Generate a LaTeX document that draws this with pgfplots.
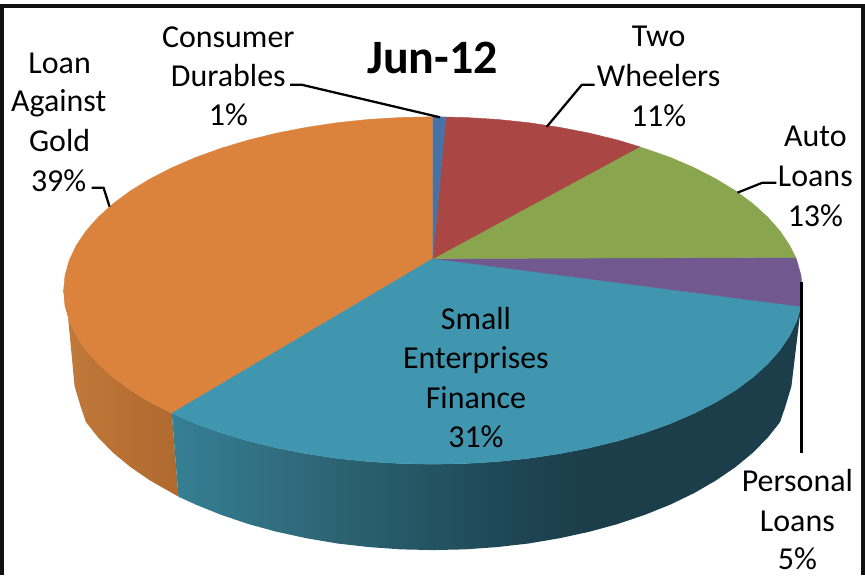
\documentclass[border=0pt]{standalone}
\usepackage{pgfplots}
\pgfplotsset{compat=1.18}
\usepackage{fontspec}
\setmainfont{Carlito}
\definecolor{cdblue}{HTML}{4572A7}
\definecolor{twred}{HTML}{AA4643}
\definecolor{algreen}{HTML}{89A54E}
\definecolor{plpurple}{HTML}{71588F}
\definecolor{seteal}{HTML}{4096AE}
\definecolor{lgorange}{HTML}{DB823C}
\definecolor{frame}{HTML}{111111}
\definecolor{tealA}{HTML}{367F94}
\definecolor{tealB}{HTML}{2F6A7B}
\definecolor{tealC}{HTML}{245563}
\definecolor{tealD}{HTML}{1E4452}
\definecolor{tealE}{HTML}{1C3E4A}
\definecolor{orangeA}{HTML}{C27A3C}
\definecolor{orangeB}{HTML}{B87033}
\definecolor{orangeC}{HTML}{AF6A30}
% Rim shadings: the middle 50bp of each shading spans the rim's width.
\pgfdeclarehorizontalshading{tealrim}{100bp}{
  color(0bp)=(tealA); color(25bp)=(tealA);
  color(35bp)=(tealB); color(45bp)=(tealC);
  color(53bp)=(tealD); color(58bp)=(tealE);
  color(75bp)=(tealE); color(100bp)=(tealE)}
\pgfdeclarehorizontalshading{orangerim}{100bp}{
  color(0bp)=(orangeA); color(25bp)=(orangeA);
  color(50bp)=(orangeB); color(75bp)=(orangeC); color(100bp)=(orangeC)}
\newcommand{\lbl}[3]{\node[anchor=base,inner sep=0pt,font=\fontsize{24}{28}\selectfont] at (axis cs:#1,#2) {#3};}
\begin{document}
\begin{tikzpicture}
\begin{axis}[
  scale only axis, width=648.75pt, height=432pt,
  xmin=0, xmax=865, ymin=0, ymax=576, y dir=reverse,
  hide axis, clip=false, no markers,
  every axis plot/.append style={line join=round}]

% Keep the full canvas in the bounding box
\path (axis cs:0,0) (axis cs:865,576);

% Rim of the pie, below the top face
\addplot[draw=none, shade, shading=orangerim] coordinates {
  (63,291) (64.4,306.2) (68.6,321.2) (75.6,336) (85.3,350.5) (97.7,364.5) (112.6,378)
  (129.9,390.8) (149.6,402.8) (171.4,414) (178,497.5) (149.6,481.3) (129.9,467.8)
  (112.6,453.5) (97.7,438.4) (85.3,422.7) (80,407) (74,387) (67,313)};
\addplot[draw=none, shade, shading=tealrim] coordinates {
  (171.4,414) (195.2,424.3) (220.8,433.5) (248,441.7) (276.6,448.7) (306.5,454.5)
  (337.2,459.1) (368.8,462.4) (400.8,464.3) (433,465) (465.2,464.3) (497.2,462.4)
  (528.8,459.1) (559.5,454.5) (589.4,448.7) (618,441.7) (645.2,433.5) (670.8,424.3)
  (694.6,414) (716.4,402.8) (736.1,390.8) (753.4,378) (768.3,364.5) (780.7,350.5)
  (790.4,336) (797.4,321.2) (801.6,307) (792,387) (786,407) (780.7,422.7) (768.3,438.4)
  (753.4,453.5) (736.1,467.8) (716.4,481.3) (694.6,493.9) (670.8,505.4) (645.2,515.7)
  (618,524.9) (589.4,532.7) (559.5,539.2) (528.8,544.4) (497.2,548) (465.2,550.3)
  (433,551) (400.8,550.3) (368.8,548) (337.2,544.4) (306.5,539.2) (276.6,532.7)
  (248,524.9) (220.8,515.7) (195.2,505.4) (178,497.5)};

% Top face: one sector per product
% Loan Against Gold, 39%
\addplot[fill=lgorange, draw=lgorange, line width=0.3pt] coordinates {
  (433,259) (433,117) (400.8,117.7) (368.8,119.6) (337.2,122.9) (306.5,127.5) (276.6,133.3)
  (248,140.3) (220.8,148.5) (195.2,157.7) (171.4,168) (149.6,179.2) (129.9,191.2)
  (112.6,204) (97.7,217.5) (85.3,231.5) (75.6,246) (68.6,260.8) (64.4,275.8) (63,291)
  (64.4,306.2) (68.6,321.2) (75.6,336) (85.3,350.5) (97.7,364.5) (112.6,378) (129.9,390.8)
  (149.6,402.8) (171.4,414) (433,259)};
% Small Enterprises Finance, 31%
\addplot[fill=seteal, draw=seteal, line width=0.3pt] coordinates {
  (433,259) (171.4,414) (195.2,424.3) (220.8,433.5) (248,441.7) (276.6,448.7) (306.5,454.5)
  (337.2,459.1) (368.8,462.4) (400.8,464.3) (433,465) (465.2,464.3) (497.2,462.4)
  (528.8,459.1) (559.5,454.5) (589.4,448.7) (618,441.7) (645.2,433.5) (670.8,424.3)
  (694.6,414) (716.4,402.8) (736.1,390.8) (753.4,378) (768.3,364.5) (780.7,350.5)
  (790.4,336) (797.4,321.2) (801.6,307) (433,259)};
% Personal Loans, 5%
\addplot[fill=plpurple, draw=plpurple, line width=0.3pt] coordinates {
  (433,259) (801.6,307) (803,291) (801.6,275.8) (797.4,260.8) (796.2,257.8) (433,259)};
% Auto Loans, 13%
\addplot[fill=algreen, draw=algreen, line width=0.3pt] coordinates {
  (433,259) (796.2,257.8) (790.4,246) (780.7,231.5) (768.3,217.5) (753.4,204) (736.1,191.2)
  (716.4,179.2) (694.6,168) (670.8,157.7) (640,147) (433,259)};
% Two Wheelers, 11%
\addplot[fill=twred, draw=twred, line width=0.3pt] coordinates {
  (433,259) (640,147) (618,140.3) (589.4,133.3) (559.5,127.5) (528.8,122.9) (497.2,119.6)
  (465.2,117.7) (445.7,117.2) (433,259)};
% Consumer Durables, 1%
\addplot[fill=cdblue, draw=cdblue, line width=0.3pt] coordinates {
  (433,259) (445.7,117.2) (433,117) (433,259)};

% Leader lines from the labels to the sectors
\addplot[black, line width=1.7pt] coordinates {(290,85) (302,85) (440,117.5)};
\addplot[black, line width=1.7pt] coordinates {(595,85) (582,85) (547,127)};
\addplot[black, line width=1.7pt] coordinates {(777,183) (763,183) (738,193)};
\addplot[black, line width=1.7pt] coordinates {(91,188) (103,188) (109,207)};
\addplot[black, line width=1.7pt] coordinates {(802,282) (802,454)};

% Frame, open at the foot
\addplot[frame, line width=2.9pt, line join=miter] coordinates {(1.2,576) (1.2,6) (863.8,6) (863.8,576)};

% Title
\node[anchor=base,inner sep=0pt,font=\fontsize{36}{42}\selectfont\bfseries] at (axis cs:432.5,73.5) {Jun-12};

% Sector labels, line by line
\lbl{228}{48}{Consumer}
\lbl{228}{87}{Durables}
\lbl{228}{126}{1\%}
\lbl{59}{74}{Loan}
\lbl{58}{112}{Against}
\lbl{59}{152}{Gold}
\lbl{58}{192}{39\%}
\lbl{659}{47}{Two}
\lbl{659}{87}{Wheelers}
\lbl{659}{127}{11\%}
\lbl{816}{147}{Auto}
\lbl{816}{187}{Loans}
\lbl{816}{227}{13\%}
\lbl{476}{330}{Small}
\lbl{476}{369}{Enterprises}
\lbl{476}{409}{Finance}
\lbl{476}{448}{31\%}
\lbl{798}{492}{Personal}
\lbl{798}{532}{Loans}
\lbl{798}{570}{5\%}
\end{axis}
\end{tikzpicture}
\end{document}
